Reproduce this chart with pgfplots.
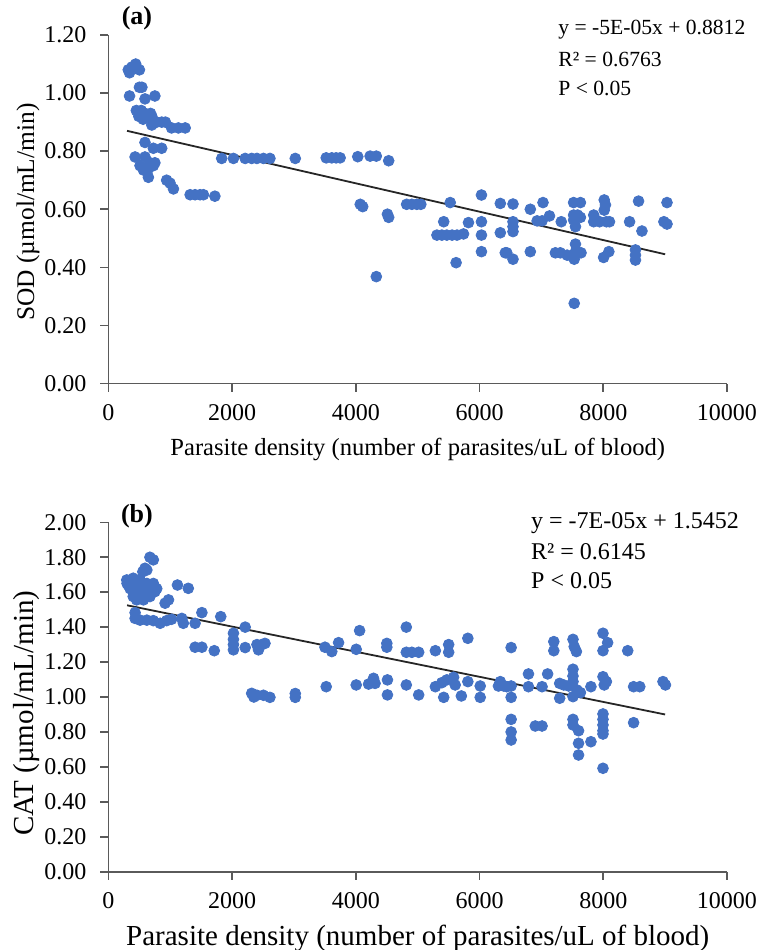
\documentclass[border=0pt]{standalone}
\usepackage{fontspec}
\setmainfont{Liberation Serif}
\usepackage{pgfplots}
\pgfplotsset{compat=1.18}
\definecolor{dotblue}{RGB}{68,114,196}
\definecolor{axisgray}{RGB}{90,90,90}

\pgfplotsset{
  panel/.style={
    scale only axis, width=309.25pt,
    xmin=0, xmax=10000, ymin=0,
    axis x line*=bottom, axis y line*=left,
    axis line style={axisgray, line width=0.8pt},
    tick align=outside, major tick length=4pt,
    tick style={axisgray, line width=0.8pt},
    xtick={0,2000,4000,6000,8000,10000},
    scaled x ticks=false, scaled y ticks=false,
    x tick label style={/pgf/number format/1000 sep={}, yshift=-3pt},
    y tick label style={xshift=-3.5pt, /pgf/number format/fixed,
      /pgf/number format/fixed zerofill, /pgf/number format/precision=2},
    /pgf/number format/assume math mode=true,
    tick label style={font=\fontsize{12}{14}\selectfont},
    clip=false,
  },
  dots/.style={only marks, mark=*, mark size=2.7pt, dotblue},
  trend/.style={black!85, line width=0.9pt},
}

\begin{document}
\begin{tikzpicture}
\useasboundingbox (-54.25pt,-39.15pt) rectangle (329.75pt,435.85pt);

% (a) SOD
\begin{axis}[panel, at={(0pt,244.1pt)}, anchor=south west,
    height=174.25pt, ymax=1.2,
    ytick={0,0.2,0.4,0.6,0.8,1.0,1.2},
    xlabel={Parasite density (number of parasites/uL of blood)},
    ylabel={SOD (µmol/mL/min)},
    x label style={at={(rel axis cs:0.5,-0.19)}, anchor=center, font=\fontsize{12.3}{14}\selectfont},
    y label style={at={(rel axis cs:-0.130,0.492)}, anchor=center, font=\fontsize{12.7}{14}\selectfont},
  ]
  \addplot[dots] coordinates {
    (320,1.08) (340,1.07) (380,1.09) (440,1.10) (500,1.08)
    (500,1.02) (540,1.02) (340,0.99) (590,0.98) (750,0.99)
    (450,0.94) (530,0.94) (590,0.93) (680,0.93) (700,0.92)
    (490,0.92) (560,0.91) (640,0.92)
    (700,0.89) (780,0.90) (860,0.90) (920,0.90)
    (1020,0.88) (1130,0.88) (1240,0.88)
    (590,0.83) (725,0.81) (860,0.81) (430,0.78) (590,0.78)
    (670,0.76) (750,0.76) (510,0.75) (565,0.735) (645,0.74) (725,0.75)
    (645,0.71) (940,0.70) (995,0.69) (1050,0.67)
    (1320,0.65) (1400,0.65) (1480,0.65) (1535,0.65) (1720,0.645)
    (1830,0.775) (2020,0.775) (2210,0.775) (2315,0.775) (2400,0.775)
    (2505,0.775) (2610,0.775) (3020,0.775)
    (3520,0.777) (3610,0.777) (3680,0.777) (3745,0.777) (4030,0.781)
    (4230,0.783) (4330,0.783) (4530,0.767)
    (4070,0.617) (4110,0.609) (4510,0.583) (4530,0.572) (4330,0.368)
    (4820,0.617) (4905,0.617) (4985,0.617) (5050,0.617)
    (5525,0.623) (6030,0.649) (6335,0.62) (6540,0.618)
    (5420,0.557) (5820,0.554) (6030,0.557)
    (6540,0.557) (6540,0.54) (6540,0.523)
    (5310,0.511) (5390,0.511) (5470,0.511) (5555,0.511) (5635,0.511) (5740,0.515)
    (6030,0.511) (6335,0.519)
    (6030,0.454) (5620,0.416) (6415,0.45) (6540,0.428)
    (6820,0.60) (7025,0.623) (7520,0.623) (7630,0.623)
    (8015,0.632) (8035,0.615) (8015,0.597) (8570,0.628) (9030,0.623)
    (6930,0.56) (7010,0.56) (7130,0.577) (7320,0.557)
    (7520,0.58) (7585,0.58) (7520,0.563) (7550,0.54) (7630,0.572)
    (7845,0.58) (7845,0.557) (7940,0.557) (8050,0.557) (8100,0.557)
    (8425,0.557) (8625,0.525) (8980,0.557) (9030,0.549)
    (6440,0.45) (6820,0.454) (7225,0.45) (7305,0.45) (7415,0.442) (7495,0.439)
    (7550,0.48) (7550,0.454) (7640,0.45) (7530,0.428)
    (8005,0.434) (8090,0.454) (8520,0.46) (8520,0.442) (8520,0.425)
    (7530,0.276)
  };
  \addplot[trend] coordinates {(300,0.87) (9000,0.445)};
  \node[font=\bfseries\fontsize{13}{15}\selectfont] at (rel axis cs:0.046,1.048) {(a)};
  \node[anchor=west, font=\fontsize{10.8}{13}\selectfont] at (rel axis cs:0.716,1.014) {y = -5E-05x + 0.8812};
  \node[anchor=west, font=\fontsize{10.8}{13}\selectfont] at (rel axis cs:0.716,0.931) {R² = 0.6763};
  \node[anchor=west, font=\fontsize{10.8}{13}\selectfont] at (rel axis cs:0.716,0.848) {P < 0.05};
\end{axis}

% (b) CAT
\begin{axis}[panel, at={(0pt,0pt)}, anchor=south west,
    height=174.7pt, ymax=2,
    ytick={0,0.2,0.4,0.6,0.8,1.0,1.2,1.4,1.6,1.8,2.0},
    xlabel={Parasite density (number of parasites/uL of blood)},
    ylabel={CAT (µmol/mL/min)},
    x label style={at={(rel axis cs:0.5,-0.19)}, anchor=center, font=\fontsize{14.5}{16}\selectfont},
    y label style={at={(rel axis cs:-0.133,0.454)}, anchor=center, font=\fontsize{14.5}{16}\selectfont},
  ]
  \addplot[dots] coordinates {
    (670,1.80) (725,1.785) (590,1.737) (620,1.727) (555,1.717)
    (295,1.67) (350,1.66) (400,1.68) (455,1.66) (510,1.67) (620,1.65) (725,1.65) (780,1.62)
    (300,1.65) (320,1.64) (450,1.62) (500,1.64) (550,1.65) (600,1.62) (650,1.60)
    (700,1.63) (350,1.62) (400,1.60) (550,1.58) (600,1.60)
    (400,1.575) (455,1.556) (565,1.556) (670,1.575) (750,1.603)
    (1115,1.641) (1290,1.622) (915,1.537) (970,1.556)
    (430,1.483) (430,1.45) (510,1.44) (620,1.44) (725,1.437) (835,1.422)
    (940,1.437) (1020,1.445) (1185,1.45) (1210,1.422) (1400,1.422)
    (1510,1.483) (1815,1.46) (2210,1.40)
    (2020,1.365) (2020,1.33) (2020,1.30) (2020,1.27)
    (2210,1.283) (2400,1.30) (2480,1.30) (2530,1.307) (2425,1.27)
    (1400,1.285) (1510,1.285) (1710,1.265)
    (2315,1.021) (2400,1.01) (2505,1.01) (2610,0.998) (2350,1.0)
    (3020,1.02) (3020,0.998)
    (3500,1.285) (3610,1.26) (3720,1.311) (4060,1.38) (4005,1.273)
    (4500,1.307) (4500,1.285) (4815,1.40) (4815,1.256) (4905,1.256) (5015,1.256)
    (5285,1.265) (5500,1.30) (5500,1.256) (5810,1.336) (6510,1.283)
    (3520,1.059) (4005,1.069) (4205,1.074) (4285,1.107) (4310,1.078)
    (4510,1.098) (4510,1.012) (4815,1.069) (5015,1.012)
    (5285,1.059) (5390,1.082) (5470,1.098) (5580,1.113) (5605,1.069) (5420,0.998)
    (5705,1.006) (5810,1.088) (6010,1.063) (6010,0.998)
    (6305,1.063) (6390,1.063) (6510,1.063) (6510,0.998)
    (6510,0.872) (6510,0.80) (6510,0.754)
    (7200,1.317) (7200,1.265) (7510,1.33) (7530,1.288) (7565,1.26)
    (7995,1.365) (8070,1.311) (7995,1.265) (8395,1.265)
    (6335,1.088) (6440,1.059)
    (6790,1.132) (6790,1.059) (7010,1.059) (7100,1.132) (7295,1.078) (7295,0.993)
    (7360,1.069) (7440,1.063) (7510,1.159) (7510,1.12) (7510,1.088) (7510,1.002)
    (7575,1.04) (7630,1.025)
    (7800,1.059) (7995,1.116) (8050,1.088) (8015,1.069) (8490,1.059) (8590,1.059)
    (8965,1.088) (9005,1.069)
    (6900,0.834) (7010,0.834) (7510,0.872) (7510,0.84) (7600,0.807)
    (7600,0.735) (7600,0.668) (7800,0.744)
    (7995,0.903) (7995,0.872) (7995,0.84) (7995,0.807) (7995,0.788)
    (8490,0.853) (7995,0.592)
  };
  \addplot[trend] coordinates {(300,1.525) (9000,0.90)};
  \node[font=\bfseries\fontsize{13}{15}\selectfont] at (rel axis cs:0.046,1.018) {(b)};
  \node[anchor=west, font=\fontsize{12}{14}\selectfont] at (rel axis cs:0.672,0.998) {y = -7E-05x + 1.5452};
  \node[anchor=west, font=\fontsize{12}{14}\selectfont] at (rel axis cs:0.672,0.915) {R² = 0.6145};
  \node[anchor=west, font=\fontsize{12}{14}\selectfont] at (rel axis cs:0.672,0.832) {P < 0.05};
\end{axis}
\end{tikzpicture}
\end{document}
